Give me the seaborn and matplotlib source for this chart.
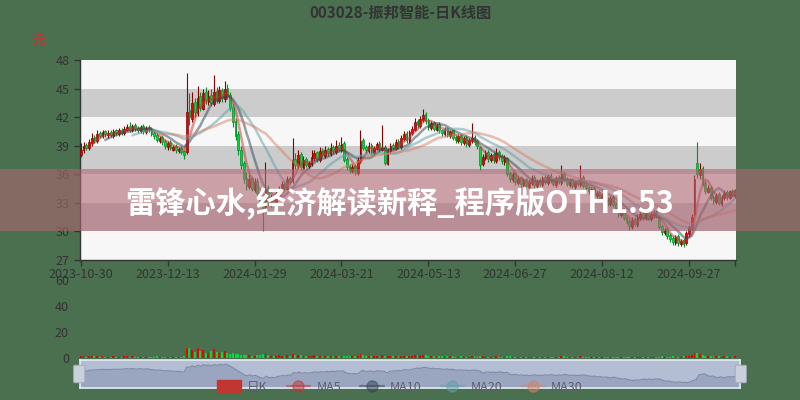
import numpy as np
import pandas as pd
import matplotlib
matplotlib.use("Agg")
import matplotlib.pyplot as plt
import matplotlib.patches as mpatches
from matplotlib.lines import Line2D
import seaborn as sns

sns.set_theme(style="white")
plt.rcParams['font.family'] = ['Noto Sans CJK SC', 'DejaVu Sans']
plt.rcParams['axes.unicode_minus'] = False

title = "003028-振邦智能-日K线图"
banner = "雷锋心水,经济解读新释_程序版OTH1.53"
start_date = "2023-10-30"
holidays = ["2024-01-01", "2024-02-09", "2024-02-12", "2024-02-13", "2024-02-14",
            "2024-02-15", "2024-02-16", "2024-04-04", "2024-04-05", "2024-05-01",
            "2024-05-02", "2024-05-03", "2024-06-10", "2024-09-16", "2024-09-17",
            "2024-10-01", "2024-10-02", "2024-10-03", "2024-10-04", "2024-10-07"]
legend_names = ["日K", "MA5", "MA10", "MA20", "MA30"]
ma_windows = [5, 10, 20, 30]

close = [
    38.6, 39.0, 38.8, 39.4, 39.8, 39.6, 40.2, 40.0, 40.4, 40.2,
    40.3, 40.1, 40.5, 40.3, 40.6, 40.4, 40.8, 41.0, 40.7, 41.1,
    40.8, 40.6, 41.0, 40.5, 40.9, 40.7, 40.2, 40.0, 39.6, 39.8,
    39.4, 39.0, 39.3, 38.8, 38.9, 38.5, 38.7, 38.3, 38.0, 42.5,
    42.0, 43.5, 42.5, 44.0, 43.0, 44.5, 43.8, 44.2, 43.5, 44.6,
    43.8, 44.8, 44.0, 45.0, 44.2, 43.0, 41.5, 40.0, 38.5, 37.0,
    35.5, 34.8, 35.5, 34.5, 35.2, 34.0, 33.0, 32.5, 34.5, 33.0,
    33.5, 32.8, 34.0, 34.5, 35.0, 34.6, 35.5, 35.2, 37.5, 37.0,
    38.0, 36.8, 37.5, 37.0, 37.2, 37.8, 38.2, 37.6, 38.4, 38.0,
    38.6, 38.2, 38.8, 38.4, 39.0, 38.6, 39.2, 37.5, 36.8, 36.4,
    36.8, 36.2, 37.5, 39.5, 38.8, 38.5, 39.0, 38.3, 38.8, 39.2,
    38.6, 38.8, 37.2, 38.5, 39.0, 38.8, 39.4, 39.0, 39.8, 40.2,
    39.6, 40.4, 40.8, 41.5, 41.2, 41.8, 42.2, 41.6, 41.0, 41.4,
    40.8, 41.2, 40.6, 40.3, 40.8, 40.1, 40.5, 39.8, 39.6, 40.0,
    39.4, 39.8, 39.2, 39.6, 39.8, 39.4, 39.0, 37.0, 37.8, 38.2,
    37.6, 38.0, 37.5, 38.2, 37.8, 37.4, 37.8, 36.0, 35.5, 36.0,
    35.2, 35.6, 35.0, 35.4, 34.8, 35.2, 35.6, 34.9, 35.3, 35.0,
    35.6, 35.2, 35.8, 35.4, 35.0, 35.6, 35.2, 36.0, 35.4, 35.0,
    35.4, 34.8, 35.2, 35.0, 35.6, 34.8, 34.6, 34.2, 34.5, 33.8,
    34.0, 33.4, 33.8, 33.2, 33.0, 33.5, 32.8, 32.5, 31.8, 32.2,
    31.4, 31.0, 30.6, 31.2, 30.8, 31.5, 31.8, 31.5, 31.9, 31.4,
    31.8, 32.0, 31.6, 30.5, 29.9, 30.2, 29.5, 29.2, 28.9, 29.4,
    28.8, 29.0, 28.7, 29.8, 30.5, 31.5, 35.5, 36.0, 36.6, 35.0,
    34.2, 34.6, 33.5, 33.2, 33.8, 33.0, 33.6, 34.0, 33.6, 34.2,
    33.8, 34.3]

open_ = [
    38.0, 38.5, 39.1, 38.8, 39.3, 39.9, 39.5, 40.3, 40.0, 40.5,
    40.1, 40.4, 40.0, 40.6, 40.2, 40.7, 40.3, 40.7, 41.1, 40.6,
    41.2, 40.9, 40.5, 41.1, 40.4, 41.0, 40.8, 40.3, 40.1, 39.5,
    39.9, 39.5, 38.9, 39.4, 38.6, 39.0, 38.4, 38.8, 38.4, 38.3,
    42.8, 41.8, 43.6, 42.4, 44.2, 42.9, 44.6, 43.6, 44.3, 43.4,
    44.7, 43.7, 44.9, 43.9, 45.1, 44.3, 43.1, 41.6, 40.2, 38.6,
    37.2, 35.6, 34.7, 35.6, 34.4, 35.3, 34.1, 33.2, 32.6, 34.6,
    32.9, 33.6, 32.7, 33.9, 34.4, 35.1, 34.5, 35.6, 35.3, 37.6,
    36.9, 38.1, 36.7, 37.6, 36.9, 37.1, 37.7, 38.3, 37.5, 38.5,
    37.9, 38.7, 38.1, 38.9, 38.3, 39.1, 38.5, 39.3, 37.6, 36.9,
    36.3, 36.9, 36.1, 37.4, 39.6, 38.9, 38.4, 39.1, 38.2, 38.7,
    39.3, 38.5, 38.9, 37.1, 38.4, 39.1, 38.7, 39.5, 38.9, 39.7,
    40.3, 39.5, 40.3, 40.7, 41.6, 41.1, 41.7, 42.3, 41.7, 40.9,
    41.5, 40.7, 41.3, 40.7, 40.2, 40.9, 40.0, 40.6, 39.9, 39.5,
    40.1, 39.3, 39.9, 39.1, 39.5, 39.9, 39.5, 38.9, 37.1, 37.7,
    38.3, 37.5, 38.1, 37.4, 38.3, 37.9, 37.3, 37.7, 36.1, 35.4,
    36.1, 35.1, 35.7, 34.9, 35.5, 34.7, 35.1, 35.7, 34.8, 35.4,
    34.9, 35.7, 35.1, 35.9, 35.5, 34.9, 35.7, 35.1, 36.1, 35.5,
    34.9, 35.5, 34.7, 35.3, 34.9, 35.7, 34.9, 34.7, 34.1, 34.6,
    33.7, 34.1, 33.3, 33.9, 33.3, 32.9, 33.6, 32.9, 32.6, 31.7,
    32.3, 31.5, 31.1, 30.5, 31.3, 30.7, 31.4, 31.9, 31.4, 32.0,
    31.3, 31.7, 32.1, 31.5, 30.6, 29.8, 30.3, 29.6, 29.3, 28.8,
    29.5, 28.7, 29.1, 28.8, 29.7, 30.4, 31.8, 37.2, 35.9, 36.7,
    35.1, 34.1, 34.7, 33.6, 33.1, 33.9, 32.9, 33.5, 34.1, 33.5,
    34.3, 33.7]

high = [
    39.3, 39.4, 39.3, 39.7, 40.3, 40.1, 40.6, 40.5, 40.7, 40.6,
    40.6, 40.6, 40.8, 40.8, 40.9, 40.9, 41.1, 41.3, 41.5, 41.3,
    41.4, 41.1, 41.2, 41.3, 41.1, 41.2, 41.0, 40.5, 40.3, 40.0,
    40.1, 39.7, 39.5, 39.6, 39.1, 39.2, 38.9, 39.0, 38.6, 46.6,
    44.5, 44.6, 44.0, 45.3, 44.6, 45.0, 45.2, 44.8, 45.0, 46.4,
    45.2, 45.3, 45.1, 45.8, 45.5, 44.6, 43.4, 41.9, 40.5, 39.0,
    37.4, 36.2, 36.0, 35.8, 35.6, 35.6, 34.5, 33.6, 37.3, 34.9,
    33.9, 33.8, 34.4, 34.8, 35.3, 35.3, 35.8, 35.8, 39.8, 38.2,
    38.5, 38.3, 37.9, 37.8, 37.4, 38.5, 38.6, 38.4, 38.9, 38.8,
    39.0, 38.9, 39.3, 39.1, 39.6, 39.4, 39.9, 39.5, 37.8, 37.1,
    37.1, 37.1, 37.8, 40.6, 39.8, 39.1, 39.4, 39.3, 39.0, 39.4,
    39.5, 41.2, 39.1, 38.8, 39.3, 39.3, 39.7, 39.7, 40.1, 40.5,
    40.5, 40.6, 41.1, 41.9, 41.8, 42.1, 42.9, 42.5, 41.9, 41.6,
    41.6, 41.4, 41.5, 40.8, 41.0, 41.0, 40.7, 40.7, 40.1, 40.2,
    40.2, 40.0, 40.1, 39.8, 41.4, 40.1, 39.7, 39.0, 38.1, 38.5,
    38.5, 38.2, 38.3, 38.8, 38.5, 38.1, 38.0, 37.8, 36.3, 36.2,
    36.3, 35.9, 35.8, 35.6, 35.6, 35.5, 35.9, 35.9, 35.5, 35.6,
    35.8, 35.9, 36.0, 36.1, 35.6, 35.8, 35.9, 37.0, 36.3, 35.7,
    35.6, 35.6, 35.4, 35.5, 37.0, 35.9, 35.1, 34.8, 34.7, 34.8,
    34.2, 34.3, 34.0, 34.1, 33.6, 33.7, 33.8, 33.1, 32.9, 32.5,
    32.5, 31.7, 31.3, 31.5, 31.5, 31.8, 32.0, 32.1, 32.1, 32.2,
    32.0, 32.3, 32.3, 31.7, 30.8, 30.4, 30.5, 29.8, 29.5, 29.6,
    29.7, 29.2, 29.3, 30.0, 30.7, 31.8, 35.9, 39.4, 37.2, 36.9,
    35.4, 34.9, 34.8, 33.8, 34.0, 34.1, 33.8, 34.2, 34.3, 34.4,
    34.5, 34.5]

low = [
    37.8, 38.2, 38.5, 38.5, 39.0, 39.3, 39.3, 39.8, 39.8, 39.9,
    39.8, 39.9, 39.8, 40.0, 40.0, 40.1, 40.1, 40.5, 40.4, 40.4,
    40.5, 40.3, 40.3, 40.2, 40.2, 40.4, 40.0, 39.7, 39.4, 39.3,
    39.1, 38.7, 38.6, 38.5, 38.4, 38.2, 38.2, 38.1, 37.6, 38.1,
    41.2, 41.5, 42.0, 42.1, 42.6, 42.7, 43.4, 43.3, 43.2, 43.2,
    43.5, 43.5, 43.6, 43.6, 43.9, 42.6, 41.0, 39.6, 38.0, 36.6,
    35.1, 34.4, 34.5, 34.2, 34.1, 33.8, 32.7, 30.0, 32.4, 32.7,
    32.6, 32.5, 32.5, 33.7, 34.2, 34.3, 34.3, 35.0, 35.1, 36.6,
    36.7, 36.5, 36.5, 36.8, 36.7, 36.9, 37.4, 37.3, 37.3, 37.8,
    37.7, 37.9, 37.9, 38.1, 38.1, 38.4, 38.3, 37.3, 36.5, 36.1,
    36.1, 35.9, 35.9, 37.2, 38.5, 38.2, 38.2, 38.0, 38.0, 38.5,
    38.3, 38.4, 37.0, 37.0, 38.2, 38.5, 38.5, 38.7, 38.7, 39.5,
    39.3, 39.3, 40.1, 40.5, 40.9, 40.9, 41.5, 41.3, 40.7, 40.7,
    40.5, 40.5, 40.3, 40.0, 40.0, 39.9, 39.8, 39.6, 39.3, 39.3,
    39.1, 39.1, 38.9, 38.9, 39.3, 39.1, 38.7, 36.4, 36.9, 37.5,
    37.3, 37.3, 37.2, 37.2, 37.5, 37.1, 37.0, 35.8, 35.2, 35.2,
    34.9, 34.9, 34.7, 34.6, 34.5, 34.5, 34.9, 34.6, 34.5, 34.8,
    34.7, 35.0, 34.9, 35.1, 34.8, 34.7, 35.0, 34.9, 35.2, 34.8,
    34.7, 34.6, 34.5, 34.8, 34.7, 34.6, 34.3, 33.9, 33.9, 33.5,
    33.5, 33.1, 33.1, 33.0, 32.7, 32.7, 32.6, 32.2, 31.5, 31.5,
    31.2, 30.8, 30.1, 30.3, 30.6, 30.5, 31.2, 31.2, 31.2, 31.2,
    31.1, 31.5, 31.4, 30.3, 29.6, 29.6, 29.2, 28.9, 28.6, 28.6,
    28.5, 28.5, 28.4, 28.6, 29.5, 30.2, 31.6, 35.6, 35.5, 34.8,
    33.9, 34.0, 33.3, 32.9, 32.9, 32.8, 32.7, 33.3, 33.3, 33.4,
    33.6, 33.5]

volume = [
    1.8, 1.2, 1.0, 1.4, 1.6, 1.2, 1.5, 1.1, 1.3, 1.0,
    0.9, 1.1, 1.2, 0.9, 1.0, 1.1, 1.3, 1.4, 1.0, 1.2,
    1.1, 0.9, 1.0, 1.0, 0.8, 0.9, 1.1, 1.0, 1.2, 0.9,
    1.0, 1.1, 0.9, 1.0, 0.8, 1.0, 0.9, 1.1, 1.3, 8.0,
    7.5, 6.2, 5.0, 7.8, 5.5, 6.0, 4.2, 3.8, 5.2, 6.8,
    4.5, 3.9, 4.6, 5.1, 4.0, 3.2, 3.5, 3.0, 2.8, 2.5,
    2.6, 2.2, 2.0, 1.8, 1.9, 2.1, 2.3, 3.0, 3.8, 2.4,
    1.8, 1.6, 1.9, 2.0, 1.7, 1.5, 2.2, 1.8, 3.2, 2.6,
    2.4, 2.0, 1.8, 1.7, 1.5, 1.9, 2.1, 1.6, 1.8, 1.5,
    1.7, 1.4, 1.6, 1.5, 1.8, 1.4, 1.6, 1.9, 1.5, 1.3,
    1.2, 1.4, 1.6, 2.8, 2.0, 1.5, 1.4, 1.3, 1.2, 1.4,
    1.3, 2.2, 1.8, 1.5, 1.3, 1.2, 1.4, 1.3, 1.6, 1.8,
    1.5, 1.7, 1.9, 2.4, 2.0, 2.2, 2.6, 2.0, 1.7, 1.5,
    1.4, 1.3, 1.5, 1.2, 1.1, 1.3, 1.2, 1.4, 1.1, 1.0,
    1.2, 1.1, 1.0, 1.1, 1.9, 1.2, 1.0, 1.8, 1.3, 1.1,
    1.0, 0.9, 1.0, 1.2, 0.9, 0.8, 0.9, 1.4, 1.2, 1.0,
    1.1, 0.9, 1.0, 0.8, 0.9, 0.8, 1.0, 0.9, 0.8, 0.9,
    0.8, 0.9, 1.0, 0.9, 0.8, 1.0, 0.9, 1.6, 1.2, 0.9,
    0.8, 0.9, 0.8, 0.9, 1.5, 1.0, 0.9, 1.0, 0.8, 0.9,
    0.8, 0.9, 0.8, 0.9, 0.8, 0.9, 0.8, 0.9, 1.0, 0.9,
    1.0, 0.9, 1.1, 1.0, 0.9, 1.0, 0.9, 0.8, 0.9, 0.8,
    0.9, 0.8, 0.9, 1.1, 1.2, 1.0, 1.1, 1.0, 1.2, 1.1,
    1.0, 1.1, 1.2, 1.4, 1.6, 2.0, 3.5, 4.2, 3.0, 2.2,
    1.8, 1.5, 1.6, 1.3, 1.2, 1.4, 1.1, 1.3, 1.2, 1.1,
    1.0, 1.2]

y_ticks = [27, 30, 33, 36, 39, 42, 45, 48]
vol_ticks = [0, 20, 40, 60]
label_step = 32

# ---------------- data frame ----------------
N = len(close)
dates = pd.bdate_range(start_date, periods=N, freq="C", holidays=holidays)
df = pd.DataFrame({"idx": np.arange(N), "date": dates.strftime("%Y-%m-%d"),
                   "open": open_, "close": close, "high": high, "low": low,
                   "volume": volume})
for w in ma_windows:
    df[f"MA{w}"] = df["close"].rolling(w).mean()
up = df["close"] >= df["open"]

BG = "#4a7050"
UP_FILL, UP_EDGE = "#ec0000", "#8A0000"
DN_FILL, DN_EDGE = "#00da3c", "#008F28"
MA_COLORS = ["#c23531", "#2f4554", "#61a0a8", "#d48265"]
TXT = "#333333"

fig = plt.figure(figsize=(8, 4), dpi=100, facecolor=BG)

# ---------------- main K-line axes ----------------
ax = fig.add_axes([0.1, 0.35, 0.82, 0.5])
ax.set_xlim(-0.3, N - 1 + 0.3)
ax.set_ylim(27, 48)
for k in range(len(y_ticks) - 1):
    col = "#f7f7f7" if (k % 2 == 0) else "#cccccc"
    ax.axhspan(y_ticks[k], y_ticks[k + 1], color=col, zorder=0, lw=0)

ax.vlines(df["idx"], df["low"], df["high"],
          colors=np.where(up, UP_EDGE, DN_EDGE), linewidth=0.8, zorder=2)
body_lo = np.minimum(df["open"], df["close"])
body_h = np.maximum(np.abs(df["close"] - df["open"]), 0.05)
ax.bar(df["idx"], body_h, bottom=body_lo, width=0.62,
       color=np.where(up, UP_FILL, DN_FILL),
       edgecolor=np.where(up, UP_EDGE, DN_EDGE), linewidth=0.5, zorder=3)

for w, c in zip(ma_windows, MA_COLORS):
    sns.lineplot(data=df, x="idx", y=f"MA{w}", ax=ax, color=c, alpha=0.5,
                 linewidth=1.8, zorder=4, legend=False)

ax.set_xlabel("")
ax.set_ylabel("")
for s in ["top", "right"]:
    ax.spines[s].set_visible(False)
for s in ["left", "bottom"]:
    ax.spines[s].set_color(TXT)
    ax.spines[s].set_linewidth(1.0)
ax.set_yticks(y_ticks)
ax.set_yticklabels([str(t) for t in y_ticks])
xt = list(range(0, N, label_step)) + [N - 1]
xl = [df["date"][i] for i in range(0, N, label_step)] + [""]
ax.set_xticks(xt)
ax.set_xticklabels(xl)
ax.tick_params(axis="both", colors=TXT, labelsize=9, length=4, width=1,
               direction="out", bottom=True, left=True)
ax.tick_params(axis="x", pad=2)
ax.grid(False)

# ---------------- volume axes ----------------
axv = fig.add_axes([0.1, 0.105, 0.82, 0.195], facecolor="none")
axv.set_xlim(-0.3, N - 1 + 0.3)
axv.set_ylim(0, 60)
axv.bar(df["idx"], df["volume"], width=0.7,
        color=np.where(up, UP_FILL, DN_FILL), linewidth=0)
for s in axv.spines.values():
    s.set_visible(False)
axv.set_xticks([])
axv.set_yticks(vol_ticks)
axv.set_yticklabels([str(t) for t in vol_ticks])
axv.tick_params(axis="y", colors=TXT, labelsize=9, length=0, pad=8)
axv.grid(False)

# ---------------- data-zoom slider ----------------
axs = fig.add_axes([0.1, 0.03, 0.825, 0.07], facecolor="#b3bdd3")
axs.set_xlim(0, N - 1)
axs.set_ylim(24, 48.6)
axs.fill_between(df["idx"], 24, df["close"], color="#9aa6c0", lw=0)
sns.lineplot(data=df, x="idx", y="close", ax=axs, color="#7f8ba5",
             linewidth=0.8, legend=False)
axs.set_xticks([])
axs.set_yticks([])
axs.set_xlabel("")
axs.set_ylabel("")
for s in axs.spines.values():
    s.set_color("#e6ecf5")
    s.set_linewidth(1.2)
for hx in [0.1 - 0.006, 0.925 - 0.004]:
    fig.patches.append(mpatches.FancyBboxPatch(
        (hx, 0.045), 0.01, 0.04, boxstyle="round,pad=0.002",
        transform=fig.transFigure, facecolor="#c9d0dc", edgecolor="#a0a8b8",
        lw=0.6, zorder=3))

# ---------------- legend ----------------
handles = [mpatches.Patch(facecolor="#c23531", edgecolor="#c23531")]
for c in MA_COLORS:
    handles.append(Line2D([0], [0], color=c, alpha=0.5, lw=1.6, marker="o",
                          markersize=8, markerfacecolor=c, markeredgecolor=c))
leg = fig.legend(handles, legend_names, loc="center",
                 bbox_to_anchor=(0.5, 1 - 387 / 400), ncol=5, frameon=False,
                 fontsize=9, handlelength=1.9, handleheight=1.1,
                 columnspacing=1.5, handletextpad=0.5)
for t in leg.get_texts():
    t.set_color("#5c5f6e")
leg.set_zorder(6)

# ---------------- titles / banner ----------------
fig.text(0.5, 1 - 13 / 400, title, ha="center", va="center", fontsize=11,
         fontweight="bold", color=TXT)
fig.text(39 / 800, 1 - 41 / 400, "元", ha="center", va="center", fontsize=9,
         color="#c23531")

fig.patches.append(mpatches.Rectangle((0, 1 - 231 / 400), 1, 62 / 400,
                                      transform=fig.transFigure,
                                      facecolor=(174 / 255, 102 / 255, 115 / 255),
                                      alpha=0.6, lw=0, zorder=10))
fig.text(0.5, 1 - 203 / 400, banner, ha="center", va="center", fontsize=21.8,
         fontweight="bold", color="white", zorder=11)

fig.savefig("out.png", dpi=100, facecolor=BG)
